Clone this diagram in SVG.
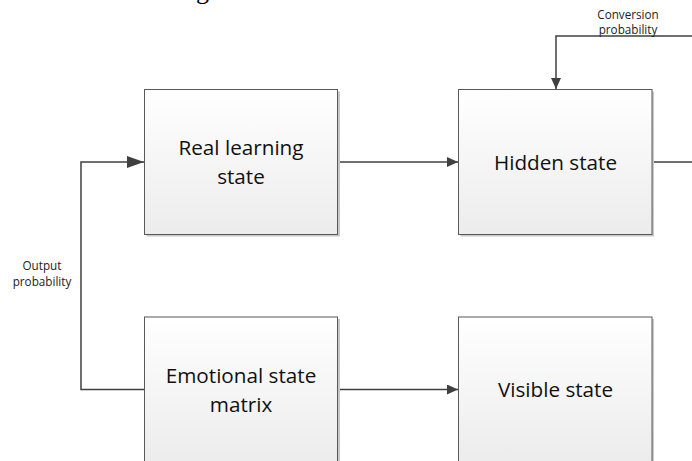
<svg xmlns="http://www.w3.org/2000/svg" width="692" height="461" viewBox="0 0 692 461">
  <defs>
    <linearGradient id="boxFill" x1="0" y1="0" x2="0" y2="1">
      <stop offset="0" stop-color="#ffffff"/>
      <stop offset="1" stop-color="#ececec"/>
    </linearGradient>
    <marker id="arrowS" viewBox="0 0 11 10" refX="11" refY="5" markerWidth="11" markerHeight="10" markerUnits="userSpaceOnUse" orient="auto">
      <path d="M0,0 L11,5 L0,10 Z" fill="#404040"/>
    </marker>
    <marker id="arrowL" viewBox="0 0 17 12" refX="17" refY="6" markerWidth="17" markerHeight="12" markerUnits="userSpaceOnUse" orient="auto">
      <path d="M0,0 L17,6 L0,12 Z" fill="#404040"/>
    </marker>
  </defs>
  <style>
    .shadow { fill: #c8c8c8; }
    .box { fill: url(#boxFill); stroke: #595959; stroke-width: 1; }
    .main { font-family: "Open Sans", "Noto Sans", "Liberation Sans", sans-serif; font-size: 20.7px; fill: #111111; text-anchor: middle; }
    .small { font-family: "Open Sans", "Noto Sans", "Liberation Sans", sans-serif; font-size: 11.7px; fill: #222222; text-anchor: middle; }
    .conn { fill: none; stroke: #404040; stroke-width: 1.5; }
  </style>
  <rect width="692" height="461" fill="#ffffff"/>

  <text x="196" y="-1" font-family="'Liberation Serif', serif" font-size="26" fill="#000000">g</text>

  <g id="connectors">
    <path class="conn" d="M337.5,162 L458,162" marker-end="url(#arrowS)"/>
    <path class="conn" d="M337.5,389.5 L458,389.5" marker-end="url(#arrowS)"/>
    <path class="conn" d="M652,162 L700,162 L700,36 L556,36 L556,89" marker-end="url(#arrowS)"/>
    <path class="conn" d="M144,389.5 L81,389.5 L81,162 L144,162" marker-end="url(#arrowL)"/>
    <text class="small" x="628" y="18.5">Conversion</text>
    <text class="small" x="628" y="33.5">probability</text>
    <text class="small" x="42" y="270">Output</text>
    <text class="small" x="42" y="285.5">probability</text>
  </g>

  <g id="real-learning-state">
    <rect class="shadow" x="146.5" y="91.5" width="193.5" height="145"/>
    <rect class="box" x="144.5" y="89.5" width="193" height="145"/>
    <text class="main" x="241" y="155">Real learning</text>
    <text class="main" x="241" y="184">state</text>
  </g>

  <g id="hidden-state">
    <rect class="shadow" x="460.5" y="91.5" width="193.5" height="145"/>
    <rect class="box" x="458.5" y="89.5" width="193.5" height="145"/>
    <text class="main" x="555.5" y="169.5">Hidden state</text>
  </g>

  <g id="emotional-state-matrix">
    <rect class="shadow" x="146.5" y="319" width="193.5" height="145"/>
    <rect class="box" x="144.5" y="317" width="193" height="145"/>
    <text class="main" x="241" y="383">Emotional state</text>
    <text class="main" x="241" y="411.7">matrix</text>
  </g>

  <g id="visible-state">
    <rect class="shadow" x="460.5" y="319" width="193.5" height="145"/>
    <rect class="box" x="458.5" y="317" width="193.5" height="145"/>
    <text class="main" x="555.5" y="397">Visible state</text>
  </g>
</svg>
